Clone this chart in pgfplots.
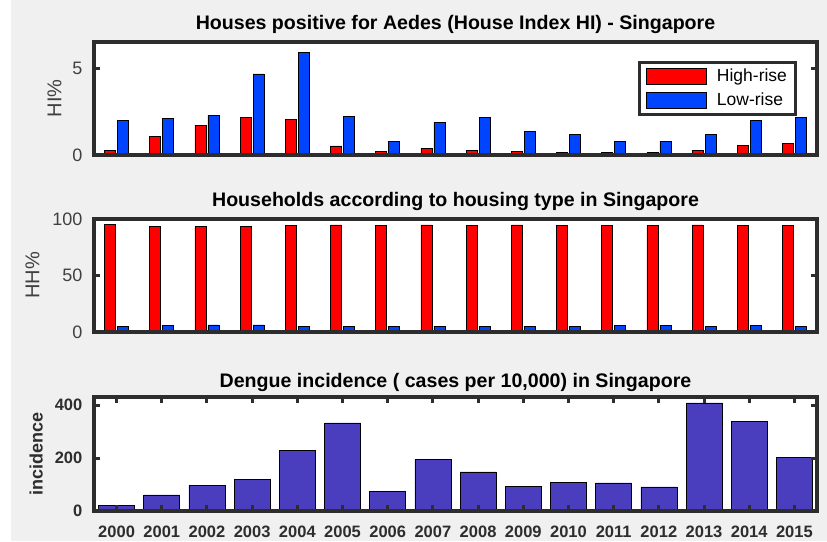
\documentclass[border=0pt]{standalone}
\usepackage{fontspec}
\setmainfont{Liberation Sans}
\usepackage{pgfplots}
\pgfplotsset{compat=1.18}
\definecolor{bg}{RGB}{240,240,240}
\definecolor{axc}{RGB}{45,45,45}
\definecolor{tkc}{RGB}{64,64,64}
\definecolor{hr}{RGB}{255,0,0}
\definecolor{lr}{RGB}{0,68,255}
\definecolor{dg}{RGB}{74,62,190}
\pgfplotsset{
  panel/.style={
    scale only axis, width=723pt,
    xmin=-0.5, xmax=15.5,
    axis background/.style={fill=white},
    axis line style={line width=3.5pt, draw=axc},
    tick align=inside, major tick length=6pt,
    tick style={line width=3pt, draw=axc},
    /pgf/number format/assume math mode=true,
    title style={at={(0.5,1)}, anchor=base, yshift=7pt, font=\bfseries\fontsize{19.6}{22}\selectfont},
    yticklabel style={anchor=east, inner sep=0pt, xshift=-11.5pt, text=tkc, font=\fontsize{18}{20}\selectfont},
    ylabel style={anchor=base, text=tkc, font=\fontsize{20}{22}\selectfont},
    axis on top,
  },
  hbar/.style={ybar, bar width=11pt, bar shift=-6.5pt, fill=hr, draw=black, line width=0.6pt,
    legend image code/.code={\draw[fill=hr, draw=black, line width=0.6pt] (0pt,-8pt) rectangle (60pt,8pt);}},
  lbar/.style={ybar, bar width=11pt, bar shift=6.5pt, fill=lr, draw=black, line width=0.6pt,
    legend image code/.code={\draw[fill=lr, draw=black, line width=0.6pt] (0pt,-8pt) rectangle (60pt,8pt);}},
}
\begin{document}
\begin{tikzpicture}[x=1pt,y=1pt]
\fill[white] (0,0) rectangle (827,-541);
\fill[bg] (11,0) rectangle (827,-541);
\useasboundingbox (0,0) rectangle (827,-541);

% Panel 1
\begin{axis}[panel, at={(94pt,-155pt)}, anchor=south west, height=113pt,
  ymin=0, ymax=6.5, ytick={0,5}, xtick=\empty,
  title={Houses positive for Aedes (House Index HI) - Singapore},
  ylabel={HI\%}, ylabel style={at={([xshift=-32.5pt]axis description cs:0,0.5)}},
  legend style={at={(0.973,0.834)}, anchor=north east, draw=axc, line width=3pt,
    fill=white, font=\fontsize{17.5}{19}\selectfont, row sep=5.5pt, column sep=8pt,
    inner xsep=7pt, inner ysep=5pt, nodes={inner sep=2pt}},
  legend cell align=left,
]
\addplot[hbar] coordinates {(0,0.25) (1,1.05) (2,1.72) (3,2.18) (4,2.07) (5,0.52) (6,0.21) (7,0.36) (8,0.27) (9,0.19) (10,0.15) (11,0.15) (12,0.15) (13,0.27) (14,0.54) (15,0.67)};
\addplot[lbar] coordinates {(0,1.99) (1,2.10) (2,2.28) (3,4.67) (4,5.92) (5,2.24) (6,0.80) (7,1.88) (8,2.16) (9,1.34) (10,1.19) (11,0.80) (12,0.77) (13,1.17) (14,1.97) (15,2.16)};
\legend{High-rise, Low-rise}
\end{axis}

% Panel 2
\begin{axis}[panel, at={(94pt,-332pt)}, anchor=south west, height=113pt,
  ymin=0, ymax=100, ytick={0,50,100}, xtick=\empty,
  title={Households according to housing type in Singapore},
  ylabel={HH\%}, ylabel style={at={([xshift=-54.5pt]axis description cs:0,0.5)}},
]
\addplot[hbar] coordinates {(0,95.0) (1,93.8) (2,93.2) (3,93.2) (4,94.4) (5,94.7) (6,94.4) (7,94.7) (8,94.4) (9,94.7) (10,94.4) (11,94.4) (12,94.1) (13,94.7) (14,94.4) (15,94.4)};
\addplot[lbar] coordinates {(0,4.7) (1,5.6) (2,6.2) (3,6.2) (4,5.3) (5,5.0) (6,5.3) (7,5.0) (8,5.3) (9,5.0) (10,5.3) (11,5.6) (12,5.6) (13,5.3) (14,5.6) (15,5.3)};
\end{axis}

% Panel 3
\begin{axis}[panel, at={(94pt,-511pt)}, anchor=south west, height=114pt,
  ymin=0, ymax=431, ytick={0,200,400},
  xtick={0,...,15},
  xticklabels={2000,2001,2002,2003,2004,2005,2006,2007,2008,2009,2010,2011,2012,2013,2014,2015},
  xticklabel style={anchor=base, inner sep=0pt, yshift=-26pt, text=axc, font=\bfseries\fontsize{16.5}{18}\selectfont},
  yticklabel style={text=axc, font=\bfseries\fontsize{16.5}{18}\selectfont},
  title={Dengue incidence ( cases per 10,000) in Singapore},
  title style={yshift=-3pt},
  ylabel={incidence}, ylabel style={at={([xshift=-51.5pt]axis description cs:0,0.5)}, text=axc, font=\bfseries\fontsize{18}{20}\selectfont},
]
\addplot[ybar, bar width=36pt, fill=dg, draw=black, line width=0.6pt] coordinates {(0,20) (1,61) (2,97) (3,119) (4,229) (5,333) (6,73) (7,194) (8,148) (9,92) (10,107) (11,106) (12,91) (13,409) (14,338) (15,202)};
\end{axis}
\end{tikzpicture}
\end{document}
